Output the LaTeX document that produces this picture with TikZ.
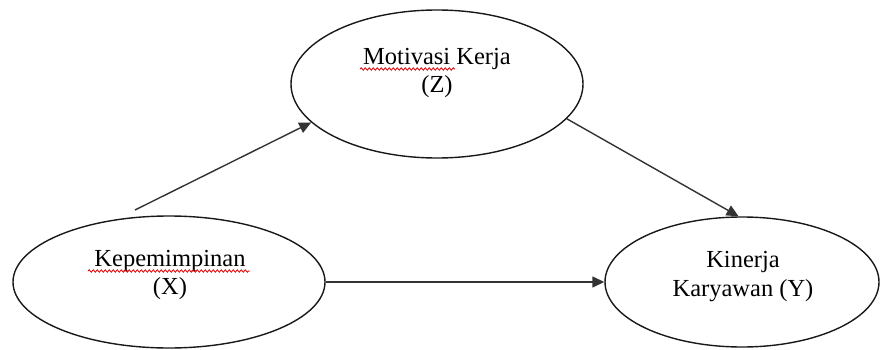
\documentclass[tikz,border=0pt]{standalone}
\usepackage{fontspec}
\setmainfont{Liberation Serif}
\usetikzlibrary{shapes.geometric,arrows.meta,decorations.pathmorphing}

\tikzset{
  construct/.style={ellipse, draw=black!90, line width=1.4pt, inner sep=0pt},
  lbl/.style={align=center, inner sep=0pt,
    font=\fontsize{24.5}{28.5}\selectfont},
  arr/.style={draw=black!80, line width=1.4pt,
    -{Triangle[length=12pt,width=11pt]}},
  spell/.style={draw=red!85!black, line width=0.8pt,
    decorate, decoration={snake, amplitude=1.2pt, segment length=4pt}}
}

\begin{document}
\begin{tikzpicture}[x=1pt, y=-1pt]
  \useasboundingbox (0,0) rectangle (880,350);

  % latent variables
  \node[construct, minimum width=292pt, minimum height=148pt] (Z) at (437,84) {};
  \node[construct, minimum width=312pt, minimum height=132pt] (X) at (169,282) {};
  \node[construct, minimum width=274pt, minimum height=130pt] (Y) at (742,282) {};

  % labels
  \node[lbl] (Zt) at (437,73) {Motivasi Kerja\\(Z)};
  \node[lbl] (Xt) at (170,275) {Kepemimpinan\\(X)};
  \node[lbl] (Yt) at (743,276.5) {Kinerja\\Karyawan (Y)};

  % spell-check marks under the Indonesian words
  \draw[spell] (360,69) -- (455,69);
  \draw[spell] (88,271) -- (250,271);

  % paths
  \coordinate (xs) at (135,210);
  \draw[arr] (xs) -- (Z.197);
  \draw[arr] (Z.-15.5) -- (Y.93);
  \draw[arr] (X.east) -- (Y.west);
\end{tikzpicture}
\end{document}
